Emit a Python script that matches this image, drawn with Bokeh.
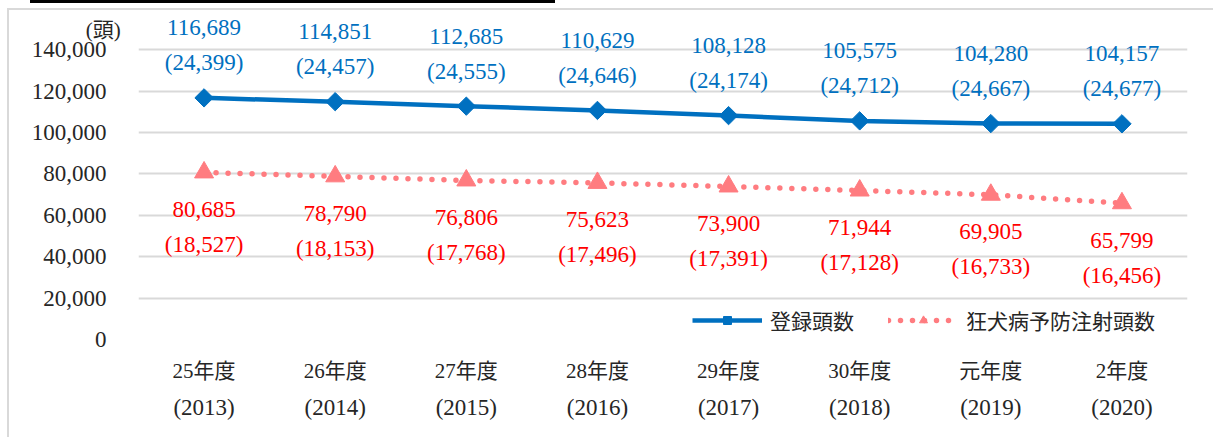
from bokeh.plotting import figure
from bokeh.models import (FactorRange, Range1d, FixedTicker, NumeralTickFormatter, Legend,
                          LegendItem, ColumnDataSource, CategoricalAxis, Div)
from bokeh.layouts import column
from bokeh.core.properties import value
from bokeh.embed import file_html
from bokeh.resources import INLINE

categories = ["25年度", "26年度", "27年度", "28年度", "29年度", "30年度", "元年度", "2年度"]
years = ["(2013)", "(2014)", "(2015)", "(2016)", "(2017)", "(2018)", "(2019)", "(2020)"]
registered = [116689, 114851, 112685, 110629, 108128, 105575, 104280, 104157]
registered_sub = [24399, 24457, 24555, 24646, 24174, 24712, 24667, 24677]
vaccinated = [80685, 78790, 76806, 75623, 73900, 71944, 69905, 65799]
vaccinated_sub = [18527, 18153, 17768, 17496, 17391, 17128, 16733, 16456]
y_ticks = [0, 20000, 40000, 60000, 80000, 100000, 120000, 140000]
y_unit = "(頭)"

SERIF = "Liberation Serif"
JP = "Liberation Serif, Noto Sans CJK JP"
BLUE = "#0070C0"
PINK = "#FF7C80"
RED = "#FF0000"
TXT = "#262626"

src = ColumnDataSource(dict(
    x=categories,
    reg=registered,
    vac=vaccinated,
    reg_lab=[f"{v:,}" for v in registered],
    reg_sub=[f"({v:,})" for v in registered_sub],
    vac_lab=[f"{v:,}" for v in vaccinated],
    vac_sub=[f"({v:,})" for v in vaccinated_sub],
))

p = figure(x_range=FactorRange(factors=categories, range_padding=0),
           y_range=Range1d(0, 156470),
           width=1206, height=429, output_backend="svg", toolbar_location=None,
           min_border_left=129, min_border_right=28, min_border_top=5, min_border_bottom=100)
p.margin = (5, 0, 0, 7)
p.extra_x_ranges = {"years": FactorRange(factors=years, range_padding=0)}
p.styles = {"border-top": "2px solid #d9d9d9", "border-left": "2px solid #d9d9d9"}
p.outline_line_color = None
p.background_fill_color = "white"
p.border_fill_color = "white"

p.yaxis.ticker = FixedTicker(ticks=y_ticks)
p.yaxis.formatter = NumeralTickFormatter(format="0,0")
p.yaxis.axis_line_color = None
p.yaxis.major_tick_line_color = None
p.yaxis.minor_tick_line_color = None
p.yaxis.major_label_standoff = 26
p.yaxis.major_label_text_font = SERIF
p.yaxis.major_label_text_font_size = "23px"
p.yaxis.major_label_text_color = TXT
p.yaxis.axis_label = " \n" + y_unit
p.yaxis.axis_label_orientation = "horizontal"
p.yaxis.axis_label_align = "end"
p.yaxis.axis_label_standoff = -92
p.yaxis.axis_label_text_font = JP
p.yaxis.axis_label_text_font_size = "21px"
p.yaxis.axis_label_text_font_style = "normal"
p.yaxis.axis_label_text_color = TXT

def style_xaxis(ax, font, size, standoff):
    ax.axis_line_color = None
    ax.major_tick_line_color = None
    ax.minor_tick_line_color = None
    ax.major_label_standoff = standoff
    ax.major_label_text_font = font
    ax.major_label_text_font_size = size
    ax.major_label_text_color = TXT

style_xaxis(p.xaxis[0], JP, "21px", 13)
year_axis = CategoricalAxis(x_range_name="years")
style_xaxis(year_axis, SERIF, "23px", 3)
p.add_layout(year_axis, "below")

p.xgrid.visible = False
p.ygrid.grid_line_color = "#d9d9d9"
p.ygrid.grid_line_width = 2

r1 = p.line("x", "reg", source=src, line_color=BLUE, line_width=4.5)
r2 = p.scatter("x", "reg", source=src, marker="square", angle=0.785398, size=13,
               fill_color=BLUE, line_color=BLUE)
r3 = p.line("x", "vac", source=src, line_color=PINK, line_width=5.5, line_dash="0 12",
            line_cap="round")
r4 = p.scatter("x", "vac", source=src, marker="triangle", size=19,
               fill_color=PINK, line_color=PINK)

common = dict(source=src, text_align="center", text_baseline="middle",
              text_font=value(SERIF), text_font_size="23px")
p.text(x="x", y="reg", text="reg_lab", y_offset=-70, text_color=BLUE, **common)
p.text(x="x", y="reg", text="reg_sub", y_offset=-35, text_color=BLUE, **common)
p.text(x="x", y="vac", text="vac_lab", y_offset=37, text_color=RED, **common)
p.text(x="x", y="vac", text="vac_sub", y_offset=72, text_color=RED, **common)

legend = Legend(items=[LegendItem(label="登録頭数", renderers=[r1, r2]),
                       LegendItem(label="狂犬病予防注射頭数", renderers=[r3, r4])],
                orientation="horizontal", location=(554, 4), glyph_width=70, glyph_height=20,
                label_text_font=JP, label_text_font_size="21px", label_text_color=TXT,
                spacing=34, padding=0, margin=0, border_line_color=None,
                background_fill_alpha=0, label_standoff=8)
p.add_layout(legend)

top_rule = Div(width=525, height=3, margin=(0, 0, 0, 30),
               styles={"background-color": "black"})

layout = column(top_rule, p, spacing=0)
open("out.html", "w").write(file_html(layout, INLINE))
